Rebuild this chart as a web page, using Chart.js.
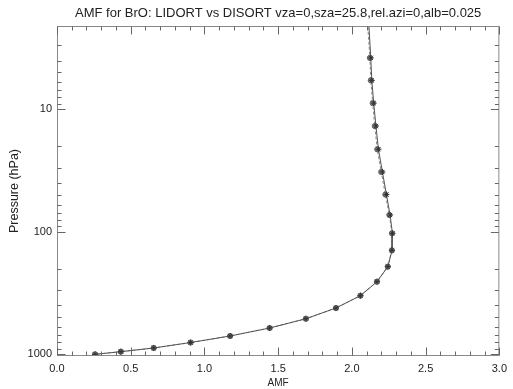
<!DOCTYPE html>
<html>
<head>
<meta charset="utf-8">
<script src="https://cdn.jsdelivr.net/npm/chart.js@4"></script>
<style>
  body { margin: 0; background: #fff; }
</style>
</head>
<body>
<canvas id="amfChart" width="513" height="389"></canvas>
<script>
// Pressure levels (hPa) and AMF values
const pressure = [1, 3.8, 5.8, 8.9, 13.7, 21.2, 32.5, 49.7, 73, 103, 142, 193, 256, 333, 420, 514, 612, 711, 804, 891, 955, 1004];
const lidortAmf = [2.10, 2.128, 2.135, 2.148, 2.163, 2.180, 2.207, 2.234, 2.259, 2.275, 2.272, 2.244, 2.170, 2.058, 1.892, 1.688, 1.442, 1.174, 0.906, 0.656, 0.433, 0.258];
const disortAmf = [2.09, 2.122, 2.128, 2.141, 2.155, 2.172, 2.199, 2.227, 2.254, 2.272, 2.271, 2.243, 2.170, 2.058, 1.892, 1.688, 1.442, 1.174, 0.906, 0.656, 0.433, 0.258];

// Axis tick values
const xMajorTicks = [0, 0.5, 1, 1.5, 2, 2.5, 3];
const xMinorStep = 0.1;
const yMajorTicks = [10, 100, 1000];
const yMinorTicks = [3, 4, 5, 6, 7, 8, 9, 20, 30, 40, 50, 60, 70, 80, 90, 200, 300, 400, 500, 600, 700, 800, 900];

const ink = '#222';
const frameColor = '#888';

function toPoints(xs) {
    return xs.map((x, i) => ({ x: x, y: pressure[i] }));
}

// IDL-style frame with inward ticks on all four sides
const frameTicks = {
    id: 'frameTicks',
    afterDraw(chart) {
        const ctx = chart.ctx;
        const a = chart.chartArea;
        const xs = chart.scales.x;
        const ys = chart.scales.y;
        ctx.save();
        ctx.strokeStyle = frameColor;
        ctx.lineWidth = 1;
        ctx.setLineDash([]);
        ctx.strokeRect(a.left + 0.5, a.top + 0.5, a.right - a.left - 1, a.bottom - a.top - 1);
        const top = a.top + 0.5, bottom = a.bottom - 0.5;
        const left = a.left + 0.5, right = a.right - 0.5;
        ctx.strokeStyle = '#666';
        for (let i = 0; i <= 30; i++) {
            const len = i % 5 === 0 ? 8 : 4;
            const px = Math.round(a.left + (a.right - a.left) * i / 30) + 0.5;
            ctx.beginPath();
            ctx.moveTo(px, bottom); ctx.lineTo(px, bottom - len);
            ctx.moveTo(px, top); ctx.lineTo(px, top + len);
            ctx.stroke();
        }
        const yAll = yMajorTicks.map(v => [v, 8]).concat(yMinorTicks.map(v => [v, 4]));
        for (const [v, len] of yAll) {
            const py = Math.round(ys.getPixelForValue(v)) + 0.5;
            ctx.beginPath();
            ctx.moveTo(left, py); ctx.lineTo(left + len, py);
            ctx.moveTo(right, py); ctx.lineTo(right - len, py);
            ctx.stroke();
        }
        ctx.restore();
    }
};

new Chart(document.getElementById('amfChart').getContext('2d'), {
    type: 'scatter',
    data: {
        datasets: [
            {
                label: 'LIDORT',
                data: toPoints(lidortAmf),
                showLine: true,
                borderColor: '#555',
                borderWidth: 1,
                pointStyle: 'star',
                pointRadius: ctx => (ctx.raw && ctx.raw.y < 2 ? 0 : 3),
                pointBorderColor: '#333',
                pointBorderWidth: 1,
                pointBackgroundColor: '#333'
            },
            {
                label: 'DISORT',
                data: toPoints(disortAmf),
                showLine: true,
                borderColor: '#888',
                borderWidth: 1,
                borderDash: [3, 2],
                pointStyle: 'circle',
                pointRadius: ctx => (ctx.raw && ctx.raw.y < 2 ? 0 : 2.6),
                pointBorderColor: '#666',
                pointBorderWidth: 1,
                pointBackgroundColor: '#888'
            }
        ]
    },
    options: {
        responsive: false,
        animation: false,
        layout: { padding: { top: 0, left: 0, right: 8, bottom: 0 } },
        plugins: {
            legend: { display: false },
            tooltip: { enabled: false },
            title: {
                display: true,
                fullSize: false,
                text: 'AMF for BrO: LIDORT vs DISORT vza=0,sza=25.8,rel.azi=0,alb=0.025',
                color: '#222',
                font: { family: 'Liberation Sans', size: 13, weight: 'normal' },
                padding: { top: 6, bottom: 4.4 }
            }
        },
        scales: {
            x: {
                type: 'linear',
                min: 0,
                max: 3,
                afterFit(scale) { scale.height = 33; },
                afterBuildTicks(scale) { scale.ticks = xMajorTicks.map(v => ({ value: v })); },
                grid: { display: false, drawTicks: false },
                border: { display: false },
                ticks: {
                    color: ink,
                    padding: 6,
                    font: { family: 'Liberation Sans', size: 11 },
                    maxRotation: 0,
                    callback: v => v.toFixed(1)
                },
                title: {
                    display: true,
                    text: 'AMF',
                    color: ink,
                    font: { family: 'Liberation Sans', size: 10 },
                    padding: { top: 0, bottom: 0 }
                }
            },
            y: {
                type: 'logarithmic',
                reverse: true,
                min: 2.086,
                max: 1036,
                afterFit(scale) { scale.width = 57; },
                afterBuildTicks(scale) { scale.ticks = yMajorTicks.map(v => ({ value: v })); },
                grid: { display: false, drawTicks: false },
                border: { display: false },
                ticks: {
                    color: ink,
                    padding: 5,
                    font: { family: 'Liberation Sans', size: 11 },
                    callback: v => String(v)
                },
                title: {
                    display: true,
                    text: 'Pressure (hPa)',
                    color: ink,
                    font: { family: 'Liberation Sans', size: 12.5 },
                    padding: { top: 7, bottom: 0 }
                }
            }
        }
    },
    plugins: [frameTicks]
});
</script>
</body>
</html>
